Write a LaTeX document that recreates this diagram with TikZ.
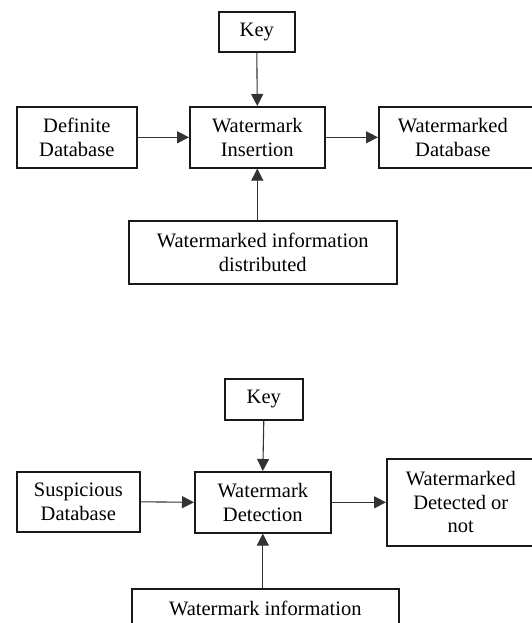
\documentclass[tikz,border=0pt]{standalone}
\usepackage{fontspec}
\setmainfont{Liberation Serif}
\usetikzlibrary{arrows.meta}

\begin{document}
\begin{tikzpicture}[x=1pt,y=-1pt,
  box/.style={draw=black!90, line width=1.6pt, rectangle, anchor=north west,
    inner sep=0pt, align=center, text=black,
    font=\fontsize{20.5}{23.5}\selectfont},
  flow/.style={draw=black!80, line width=1.1pt,
    -{Triangle[length=12pt,width=12pt]}}
]
\useasboundingbox (0,0) rectangle (532,623);
\clip (0,0) rectangle (532,623);

% ---- insertion stage ----
\node[box, minimum width=76pt,  minimum height=40pt] (key1) at (218,11) {Key};
\node[box, minimum width=120pt, minimum height=61pt] (def)  at (16,106) {Definite\\Database};
\node[box, minimum width=135pt, minimum height=61pt] (ins)  at (189,106) {Watermark\\Insertion};
\node[box, minimum width=162pt, minimum height=61pt] (wmdb) at (378,106)
  {\parbox{148pt}{\centering Watermarked\\Database}\hspace{14pt}};
\node[box, minimum width=268pt, minimum height=63pt] (info1) at (128,220)
  {Watermarked information\\distributed};

\draw[flow] (key1.south) -- (ins.north);
\draw[flow] (def.east) -- (ins.west);
\draw[flow] (ins.east) -- (wmdb.west);
\draw[flow] (info1.north -| ins.south) -- (ins.south);

% ---- detection stage ----
\node[box, minimum width=78pt,  minimum height=41pt] (key2) at (224,378) {Key};
\node[box, minimum width=123pt, minimum height=60pt] (susp) at (16,471) {Suspicious\\Database};
\node[box, minimum width=136pt, minimum height=61pt] (det)  at (194,471) {Watermark\\Detection};
\node[box, minimum width=162pt, minimum height=87pt] (res)  at (386,458)
  {\parbox{148pt}{\centering Watermarked\\Detected or\\not}\hspace{14pt}};
\node[box, minimum width=267pt, minimum height=63pt] (info2) at (131,588)
  {Watermark information\\\vphantom{d}};

\draw[flow] (key2.south) -- (det.north);
\draw[flow] (susp.east) -- (det.west);
\draw[flow] (det.east) -- (res.west);
\draw[flow] (info2.north -| det.south) -- (det.south);
\end{tikzpicture}
\end{document}
